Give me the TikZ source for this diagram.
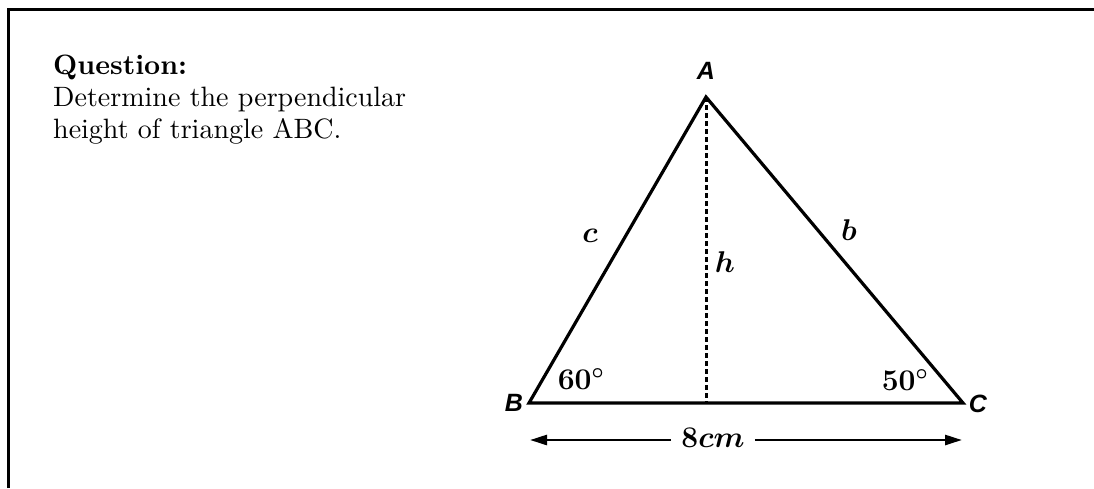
\RequirePackage{fix-cm}
\documentclass[tikz,border=0pt]{standalone}
\usepackage{amsmath,bm}
\usepackage{fontspec}
\setmainfont{lmroman10}[Extension=.otf, UprightFont=*-regular,
  BoldFont=*-bold, ItalicFont=*-italic, BoldItalicFont=*-bolditalic]
\newfontfamily\vlabfont{Liberation Sans}
\usetikzlibrary{arrows.meta,positioning,calc}
\tikzset{
  Tri/.style={line width=3.2pt, line join=miter},
  Hdash/.style={line width=3pt, dash pattern=on 5pt off 3pt},
  Vlab/.style={font=\vlabfont\fontsize{25}{28}\selectfont\bfseries\itshape,
               inner sep=0pt, anchor=base},
  Mlab/.style={font=\fontsize{30}{36}\selectfont\boldmath, inner sep=0pt,
               anchor=base},
  Darr/.style={-{Triangle[length=17pt,width=10pt]}, line width=2.6pt},
  Qtext/.style={font=\fontsize{28}{32}\selectfont, align=left, inner sep=0pt,
                anchor=north west}
}
\begin{document}
\begin{tikzpicture}[x=1pt,y=-1pt]
  \useasboundingbox (0,0) rectangle (1094,488);
  % frame
  \draw[line width=3pt] (8,488) -- (8,9) -- (1094,9);
  \node[Qtext] (qtext) at (53,55) {\textbf{Question:}\\Determine the perpendicular\\height of triangle ABC.};
  % triangle
  \coordinate (A) at (706,97);
  \coordinate (B) at (529,403);
  \coordinate (C) at (963,403);
  \coordinate (H) at (706,403);
  \draw[Tri] (A) -- (B) -- (C) -- cycle;
  \draw[Hdash] (A) -- (H);
  \node[Vlab] (labA) at (706,79) {A};
  \node[Vlab] (labB) at (514,411) {B};
  \node[Vlab] (labC) at (978,412) {C};
  \node[Mlab] (sidec) at (590,242) {$c$};
  \node[Mlab] (sideb) at (849,240) {$b$};
  \node[Mlab] (sideh) at (725,272) {$h$};
  \node[Mlab] (angB) at (581,389) {$60^\circ$};
  \node[Mlab] (angC) at (905,390) {$50^\circ$};
  % base length
  \node[Mlab, inner xsep=10pt] (blen) at (713,447) {$8cm$};
  \coordinate (L) at (530,440);
  \coordinate (R) at (962,440);
  \draw[Darr] (blen.west |- L) -- (L);
  \draw[Darr] (blen.east |- R) -- (R);
\end{tikzpicture}
\end{document}
